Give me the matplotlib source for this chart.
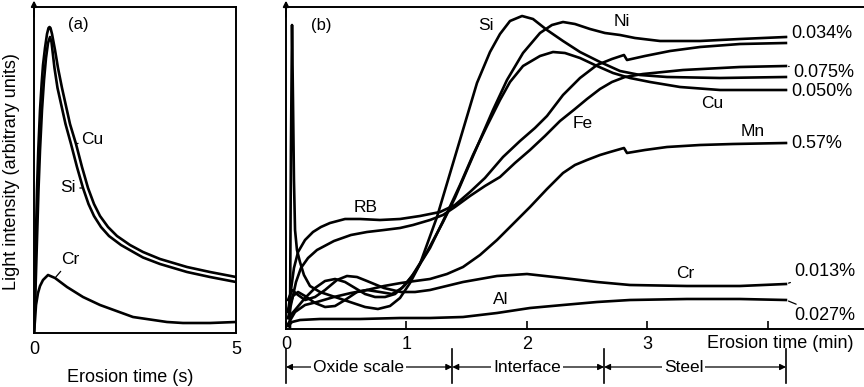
import matplotlib.pyplot as plt

plt.rcParams['font.family'] = ['Liberation Sans', 'DejaVu Sans']
plt.rcParams['font.size'] = 13

# ==========================================
# (a) first seconds of erosion
# ==========================================
a_cu_t = [0, 0.025, 0.05, 0.074, 0.106, 0.149, 0.19, 0.223, 0.272, 0.322, 0.359, 0.384, 0.408,
          0.446, 0.52, 0.594, 0.693, 0.792, 0.891, 1.04, 1.188, 1.337, 1.485, 1.634, 1.832,
          2.054, 2.376, 2.698, 3.119, 3.787, 4.356, 5.0]
a_cu_i = [0, 43, 100, 143, 183, 223, 250, 268, 285, 299, 305, 306, 305,
          299, 283, 265, 245, 227, 209, 189, 166, 145, 129, 117, 106,
          97, 88, 81, 74, 66, 61, 56]

a_si_t = [0, 0.037, 0.074, 0.111, 0.149, 0.198, 0.248, 0.297, 0.347, 0.396, 0.433, 0.47, 0.507,
          0.582, 0.681, 0.78, 0.916, 1.064, 1.213, 1.349, 1.485, 1.658, 1.856, 2.153, 2.5,
          2.698, 3.119, 3.787, 4.356, 5.0]
a_si_i = [0, 43, 93, 143, 183, 223, 253, 275, 290, 296, 291, 278, 265,
          245, 227, 209, 189, 166, 145, 129, 117, 106, 97, 88, 80,
          75.5, 69, 61, 56, 51]

a_cr_t = [0, 0.025, 0.05, 0.099, 0.149, 0.223, 0.347, 0.52, 0.817, 1.213, 1.634, 2.45, 3.292,
          3.688, 4.356, 5.0]
a_cr_i = [0, 13, 28, 40, 47, 53, 58, 55, 46, 36, 28, 16, 11, 10, 10, 11]

# ==========================================
# (b) depth profile through the oxide scale
# ==========================================
b_si_t = [0.033, 0.041, 0.050, 0.058, 0.066, 0.075, 0.091, 0.116, 0.149, 0.199, 0.282, 0.407,
          0.531, 0.656, 0.763, 0.863, 0.946, 1.029, 1.112, 1.253, 1.419, 1.585, 1.693, 1.776,
          1.859, 1.959, 2.050, 2.166, 2.299, 2.440, 2.606, 2.772, 2.938, 3.162, 3.602, 4.149]
b_si_i = [0, 179, 304, 229, 149, 99, 79, 67, 54, 43, 37, 32,
          27, 22, 20, 23, 31, 46, 65, 112, 179, 246, 277, 295,
          308, 313, 310, 299, 288, 277, 267, 258, 254, 252, 251, 252]

b_ni_t = [0.017, 0.058, 0.100, 0.158, 0.241, 0.324, 0.407, 0.490, 0.589, 0.672, 0.780, 0.880,
          0.963, 1.046, 1.170, 1.303, 1.402, 1.502, 1.610, 1.718, 1.834, 1.967, 2.108, 2.207,
          2.299, 2.398, 2.523, 2.647, 2.772, 2.896, 3.104, 3.436, 3.768, 4.149]
b_ni_i = [19, 33, 37, 33, 26, 22, 23, 29, 37, 39, 37, 35,
          41, 53, 77, 107, 131, 159, 189, 219, 249, 276, 296, 304,
          307, 305, 300, 296, 294, 291, 288, 288, 290, 292]

b_cu_t = [0.017, 0.075, 0.158, 0.241, 0.324, 0.407, 0.490, 0.573, 0.656, 0.739, 0.822, 0.905,
          0.988, 1.071, 1.195, 1.336, 1.444, 1.552, 1.668, 1.776, 1.859, 1.967, 2.108, 2.216,
          2.315, 2.440, 2.581, 2.714, 2.855, 3.021, 3.270, 3.602, 4.149]
b_cu_i = [11, 19, 31, 41, 48, 50, 47, 41, 35, 32, 32, 35,
          44, 57, 81, 116, 144, 174, 203, 229, 247, 263, 273, 277,
          276, 271, 263, 256, 251, 247, 242, 239, 239]

b_rb_t = [0.017, 0.041, 0.066, 0.100, 0.158, 0.224, 0.290, 0.365, 0.490, 0.614, 0.780, 0.946,
          1.112, 1.278, 1.402, 1.527, 1.651, 1.801, 1.942, 2.066, 2.166, 2.299, 2.440, 2.581,
          2.705, 2.805, 2.830, 2.979, 3.187, 3.436, 3.768, 4.149]
b_rb_i = [17, 39, 61, 77, 89, 97, 102, 106, 110, 110, 109, 110,
          113, 117, 124, 137, 151, 172, 188, 201, 213, 234, 251, 264,
          270, 274, 269, 273, 278, 282, 285, 286]

b_fe_t = [0.017, 0.050, 0.083, 0.124, 0.183, 0.257, 0.398, 0.539, 0.672, 0.813, 0.946, 1.054,
          1.195, 1.303, 1.402, 1.527, 1.651, 1.776, 1.900, 2.025, 2.149, 2.274, 2.398, 2.498,
          2.606, 2.705, 2.813, 2.963, 3.295, 3.768, 4.149]
b_fe_i = [11, 29, 47, 61, 71, 79, 88, 94, 97, 99, 101, 104,
          109, 114, 122, 133, 143, 152, 166, 179, 193, 208, 220, 230,
          240, 247, 252, 255, 259, 262, 263]

b_mn_t = [0.017, 0.075, 0.158, 0.257, 0.398, 0.539, 0.672, 0.813, 0.954, 1.071, 1.195, 1.336,
          1.469, 1.610, 1.751, 1.884, 2.025, 2.166, 2.299, 2.398, 2.498, 2.606, 2.689, 2.805,
          2.830, 2.979, 3.162, 3.436, 3.710, 4.149]
b_mn_i = [5, 17, 24, 27, 32, 36, 39, 43, 46, 48, 50, 55,
          62, 74, 89, 105, 122, 140, 156, 164, 169, 174, 177, 181,
          176, 179, 182, 184, 185, 186]

b_cr_t = [0.017, 0.050, 0.100, 0.158, 0.241, 0.324, 0.423, 0.506, 0.589, 0.672, 0.813, 0.954,
          1.071, 1.195, 1.469, 1.751, 2.000, 2.299, 2.581, 2.855, 3.328, 3.768, 4.149]
b_cr_i = [29, 39, 34, 29, 32, 39, 49, 53, 52, 48, 41, 37,
          37, 39, 47, 53, 55, 51, 47, 44, 43, 43, 45]

b_al_t = [0.017, 0.050, 0.116, 0.282, 0.614, 0.946, 1.195, 1.469, 1.751, 2.025, 2.299, 2.581,
          2.855, 3.328, 3.768, 4.149]
b_al_i = [3, 7, 9, 10, 10, 11, 11, 12, 16, 21, 24, 27, 29, 30, 30, 29]

b_ticks = [0, 1, 2, 3, 4]
b_tick_labels = ['0', '1', '2', '3', '']

# layer boundaries below the time axis (min)
region_edges = [0.0, 1.38, 2.64, 4.15]
region_names = ['Oxide scale', 'Interface', 'Steel']
region_label_x = [0.6, 2.0, 3.3]

LW = 1.9
fig = plt.figure(figsize=(8.64, 3.87), dpi=100)

# ---- panel (a) ----
ax1 = fig.add_axes([34 / 864, 1 - 333 / 387, 202 / 864, 326 / 387])
ax1.plot(a_cu_t, a_cu_i, color='k', lw=LW)
ax1.plot(a_si_t, a_si_i, color='k', lw=LW)
ax1.plot(a_cr_t, a_cr_i, color='k', lw=LW)
ax1.set_xlim(0, 5)
ax1.set_ylim(0, 326)
ax1.set_xticks([0, 5])
ax1.set_yticks([])
ax1.tick_params(axis='x', length=0, pad=6, labelsize=13)
for sp in ax1.spines.values():
    sp.set_linewidth(1.4)
ax1.annotate('', xy=(0, 1.02), xytext=(0, 0.97), xycoords='axes fraction',
             arrowprops=dict(arrowstyle='-|>', lw=1.4, color='k', mutation_scale=8,
                             shrinkA=0, shrinkB=0))
ax1.text(1.09, 309, '(a)', ha='center', va='center', fontsize=12)
ax1.annotate('Cu', xy=(a_cu_t[19], a_cu_i[19]), xytext=(1.16, 194), ha='left', va='center',
             fontsize=12.5, arrowprops=dict(arrowstyle='-', lw=0.9, color='k', shrinkA=0, shrinkB=1))
ax1.annotate('Si', xy=(a_si_t[18], a_si_i[18]), xytext=(0.84, 145), ha='center', va='center',
             fontsize=12.5, arrowprops=dict(arrowstyle='-', lw=0.9, color='k', shrinkA=1, shrinkB=1))
ax1.annotate('Cr', xy=(a_cr_t[7], a_cr_i[7]), xytext=(0.9, 73), ha='center', va='center',
             fontsize=12.5, arrowprops=dict(arrowstyle='-', lw=0.9, color='k', shrinkA=1, shrinkB=1))

fig.text(130 / 864, 1 - 377 / 387, 'Erosion time (s)', ha='center', va='center', fontsize=13)
fig.text(12 / 864, 1 - 172 / 387, 'Light intensity (arbitrary units)', ha='center', va='center',
         rotation=90, fontsize=13)

# ---- panel (b) ----
ax2 = fig.add_axes([286 / 864, 1 - 329 / 387, 578 / 864, 322 / 387])
for t, i in [(b_si_t, b_si_i), (b_ni_t, b_ni_i), (b_cu_t, b_cu_i), (b_rb_t, b_rb_i),
             (b_fe_t, b_fe_i), (b_mn_t, b_mn_i), (b_cr_t, b_cr_i), (b_al_t, b_al_i)]:
    ax2.plot(t, i, color='k', lw=LW, solid_joinstyle='round')
ax2.set_xlim(0, 4.797)
ax2.set_ylim(0, 322)
ax2.set_xticks(b_ticks)
ax2.set_xticklabels(b_tick_labels)
ax2.set_yticks([])
ax2.tick_params(axis='x', direction='in', length=6, width=1.2, pad=5, labelsize=13)
ax2.spines['right'].set_visible(False)
for sp in ['left', 'top', 'bottom']:
    ax2.spines[sp].set_linewidth(1.4)
ax2.annotate('', xy=(0, 1.02), xytext=(0, 0.97), xycoords='axes fraction',
             arrowprops=dict(arrowstyle='-|>', lw=1.4, color='k', mutation_scale=8,
                             shrinkA=0, shrinkB=0))

ax2.text(0.29, 304, '(b)', ha='center', va='center', fontsize=12)
curve_labels = [('Si', 1.66, 304), ('Ni', 2.79, 308), ('Cu', 3.54, 225), ('Fe', 2.465, 205),
                ('Mn', 3.875, 198), ('RB', 0.664, 122), ('Cr', 3.31, 55), ('Al', 1.784, 29)]
for name, x, y in curve_labels:
    ax2.text(x, y, name, ha='center', va='center', fontsize=12.5)

# concentrations in the steel, tied to the curve ends
conc = [('0.034%', b_ni_t, b_ni_i, 4.19, 296), ('0.075%', b_fe_t, b_fe_i, 4.21, 257),
        ('0.050%', b_cu_t, b_cu_i, 4.19, 237), ('0.57%', b_mn_t, b_mn_i, 4.19, 186),
        ('0.013%', b_cr_t, b_cr_i, 4.22, 58), ('0.027%', b_al_t, b_al_i, 4.22, 13)]
for txt, t, i, x, y in conc:
    ax2.annotate(txt, xy=(t[-1], i[-1]), xytext=(x, y), ha='left', va='center', fontsize=13,
                 annotation_clip=False,
                 arrowprops=dict(arrowstyle='-', lw=0.9, color='k', shrinkA=1, shrinkB=2))

ax2.text(4.10, -14, 'Erosion time (min)', ha='center', va='center', fontsize=13)

# layer brackets under the time axis
for x in region_edges:
    ax2.plot([x, x], [-20, -54], color='k', lw=1.2, clip_on=False)
for k, name in enumerate(region_names):
    ax2.annotate('', xy=(region_edges[k], -38), xytext=(region_edges[k + 1], -38),
                 annotation_clip=False,
                 arrowprops=dict(arrowstyle='<|-|>', lw=0.9, color='k', mutation_scale=9,
                                 shrinkA=0, shrinkB=0))
    ax2.text(region_label_x[k], -38, name, ha='center', va='center', fontsize=12.5,
             bbox=dict(fc='white', ec='none', pad=1.5))

fig.savefig('out.png', dpi=100)
